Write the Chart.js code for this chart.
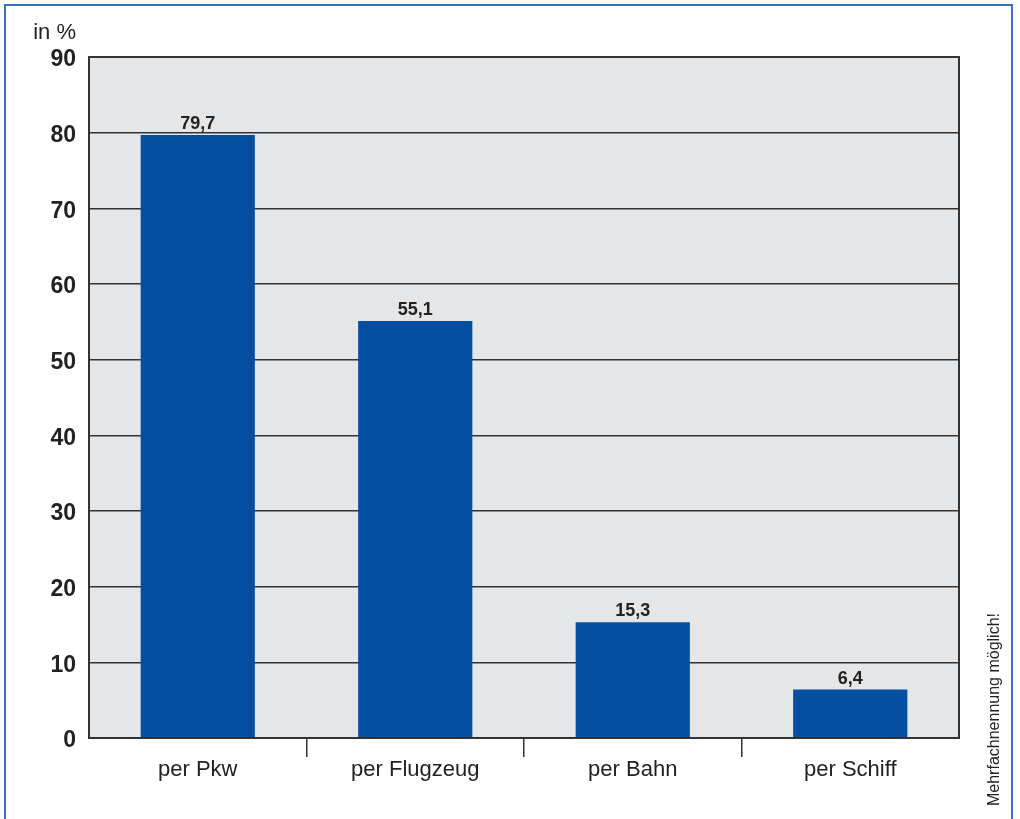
<!DOCTYPE html>
<html>
<head>
<meta charset="utf-8">
<script src="https://cdn.jsdelivr.net/npm/chart.js@4"></script>
<style>
  html, body { margin: 0; padding: 0; background: #fff; }
  #wrap { position: relative; width: 1020px; height: 819px; }
  #frame { position: absolute; left: 4px; top: 4px; width: 1009px; height: 830px;
           border: 2px solid #3b73c0; border-bottom: none; box-sizing: border-box; }
  canvas { position: absolute; left: 0; top: 0; }
</style>
</head>
<body>
<div id="wrap">
  <div id="frame"></div>
  <canvas id="chart" width="1020" height="819"></canvas>
</div>
<script>
// Daten
const categories = ["per Pkw", "per Flugzeug", "per Bahn", "per Schiff"];
const values = [79.7, 55.1, 15.3, 6.4];
const yTicks = [0, 10, 20, 30, 40, 50, 60, 70, 80, 90];
const unitLabel = "in %";
const noteText = "Mehrfachnennung möglich!";

const FONT = "'Liberation Sans', Arial, Helvetica, sans-serif";

// Hintergrund + Rahmen fuer die Plotflaeche
const plotFrame = {
  id: "plotFrame",
  beforeDraw(chart) {
    const { ctx, chartArea: a } = chart;
    ctx.save();
    ctx.fillStyle = "#e5e6e8";
    ctx.fillRect(a.left, a.top, a.right - a.left, a.bottom - a.top);
    ctx.restore();
  },
  afterDraw(chart) {
    const { ctx, chartArea: a } = chart;
    ctx.save();
    ctx.strokeStyle = "#333";
    ctx.lineWidth = 2;
    ctx.strokeRect(a.left, a.top, a.right - a.left, a.bottom - a.top);
    ctx.restore();
  }
};

// Werte ueber den Balken, Einheit und Hinweis
const labelsPlugin = {
  id: "labelsPlugin",
  afterDatasetsDraw(chart) {
    const { ctx } = chart;
    const meta = chart.getDatasetMeta(0);
    ctx.save();
    ctx.fillStyle = "#222";
    ctx.font = "bold 18px " + FONT;
    ctx.textAlign = "center";
    ctx.textBaseline = "alphabetic";
    meta.data.forEach((bar, i) => {
      ctx.fillText(values[i].toFixed(1).replace(".", ","), bar.x, bar.y - 6);
    });

    ctx.font = "22px " + FONT;
    ctx.textAlign = "right";
    ctx.fillText(unitLabel, 76, 39);

    ctx.font = "16px " + FONT;
    ctx.translate(999, 806);
    ctx.rotate(-Math.PI / 2);
    ctx.textAlign = "left";
    ctx.fillText(noteText, 0, 0);
    ctx.restore();
  }
};

new Chart(document.getElementById("chart"), {
  type: "bar",
  data: {
    labels: categories,
    datasets: [{
      data: values,
      backgroundColor: "#054ea0",
      categoryPercentage: 1,
      barPercentage: 0.525
    }]
  },
  options: {
    responsive: false,
    animation: false,
    layout: { padding: { left: 0, top: 57, right: 61, bottom: 0 } },
    plugins: { legend: { display: false }, tooltip: { enabled: false } },
    scales: {
      x: {
        offset: true,
        grid: {
          offset: true,
          drawOnChartArea: false,
          drawTicks: true,
          tickLength: 19,
          lineWidth: 1.5,
          // nur die inneren Trennstriche zeigen
          color: (c) => (c.index === undefined || c.index === 0 || c.index >= categories.length) ? "rgba(0,0,0,0)" : "#333"
        },
        border: { display: true, color: "#333", width: 2 },
        ticks: { color: "#222", font: { family: FONT, size: 22 }, padding: 0 },
        afterFit(scale) { scale.height = 81; }
      },
      y: {
        min: 0,
        max: 90,
        afterBuildTicks(scale) { scale.ticks = yTicks.map(v => ({ value: v })); },
        grid: { color: "#333", lineWidth: 1.5, drawTicks: false },
        border: { display: true, color: "#333", width: 2 },
        ticks: { color: "#222", font: { family: FONT, size: 23, weight: "bold" }, padding: 13, labelOffset: 3 },
        afterFit(scale) { scale.width = 89; }
      }
    }
  },
  plugins: [plotFrame, labelsPlugin]
});
</script>
</body>
</html>
